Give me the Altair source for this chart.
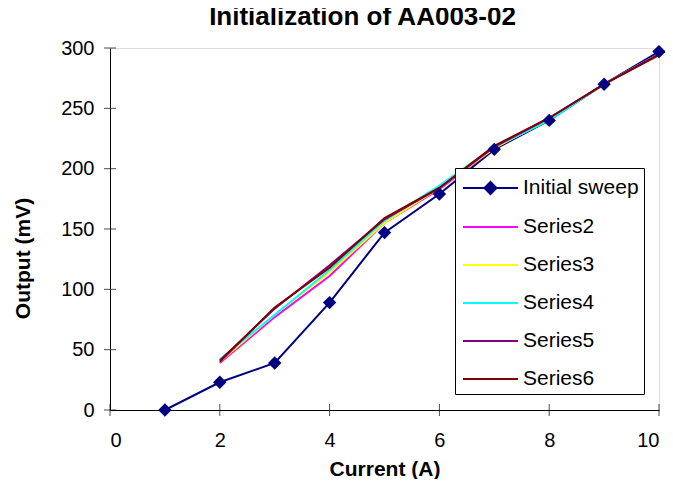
import altair as alt
import pandas as pd

# ---- data ----
series_names = ["Initial sweep", "Series2", "Series3", "Series4", "Series5", "Series6"]
series_colors = ["#000080", "#FF00FF", "#FFFF00", "#00FFFF", "#800080", "#800000"]

x_initial = [1, 2, 3, 4, 5, 6, 7, 8, 9, 10]
initial_sweep = [0, 23, 39, 89, 147, 179, 216, 240, 270, 297]

x_rep = [2, 3, 4, 5, 6, 7, 8, 9, 10]
series2 = [39, 77, 111, 155, 183, 217, 241, 270, 295]
series3 = [40, 79, 114, 155, 184, 217, 241, 270, 295]
series4 = [42, 79, 116, 157, 186, 218, 240, 270, 295]
series5 = [41, 84, 120, 158, 184, 218, 242, 270, 295]
series6 = [40, 85, 118, 159, 184, 219, 242, 270, 294]

x_ticks = [0, 2, 4, 6, 8, 10]
y_ticks = [0, 50, 100, 150, 200, 250, 300]

# ---- build tables ----
rows = []
for xv, yv in zip(x_initial, initial_sweep):
    rows.append({"current": xv, "output": yv, "series": series_names[0]})
for name, vals in zip(series_names[1:], [series2, series3, series4, series5, series6]):
    for xv, yv in zip(x_rep, vals):
        rows.append({"current": xv, "output": yv, "series": name})
df = pd.DataFrame(rows)

xtick_df = pd.DataFrame({"current": x_ticks, "output": [0] * len(x_ticks)})
ytick_df = pd.DataFrame({"current": [0] * len(y_ticks), "output": y_ticks})

FONT = "Liberation Sans"

x_scale = alt.Scale(domain=[0, 10], nice=False, zero=False)
y_scale = alt.Scale(domain=[0, 300], nice=False, zero=False)

x_enc = alt.X(
    "current:Q",
    scale=x_scale,
    axis=alt.Axis(
        title="Current (A)",
        values=x_ticks,
        ticks=False,
        grid=False,
        labelPadding=20,
        labelFontSize=20,
        labelFont=FONT,
        labelColor="black",
        domainColor="black",
        titleFont=FONT,
        titleFontSize=21,
        titleFontWeight="bold",
        titleColor="black",
        titleBaseline="alphabetic",
        titleY=65,
    ),
)
y_enc = alt.Y(
    "output:Q",
    scale=y_scale,
    axis=alt.Axis(
        title="Output (mV)",
        values=y_ticks,
        ticks=False,
        grid=False,
        labelPadding=16,
        labelFontSize=20,
        labelFont=FONT,
        labelColor="black",
        domainColor="black",
        titleFont=FONT,
        titleFontSize=21,
        titleFontWeight="bold",
        titleColor="black",
        titleAngle=270,
        titleAlign="center",
        titleBaseline="alphabetic",
        titleX=-81,
        titleY=210,
    ),
)

color_scale = alt.Scale(domain=series_names, range=series_colors)

# legend glyphs: a horizontal line (plus a diamond for the initial sweep)
line_path = "M-2,0H2"
sweep_path = "M-2,0H2M0,-0.44L0.44,0L0,0.44L-0.44,0Z"
shape_scale = alt.Scale(domain=series_names, range=[sweep_path] + [line_path] * 5)

legend = alt.Legend(
    title=None,
    orient="none",
    legendX=345,
    legendY=120,
    fillColor="white",
    strokeColor="black",
    padding=5,
    cornerRadius=0,
    labelFont=FONT,
    labelFontSize=21,
    labelColor="black",
    labelOffset=17.5,
    symbolOffset=15.5,
    symbolSize=756,
    symbolStrokeWidth=2,
    symbolOpacity=1,
    rowPadding=13,
)

stroke_enc = alt.Stroke("series:N", scale=color_scale, legend=legend)
fill_enc = alt.Fill("series:N", scale=color_scale, legend=legend)

lines = alt.Chart(df).mark_line(strokeWidth=2).encode(
    x=x_enc,
    y=y_enc,
    stroke=stroke_enc,
)

diamonds = (
    alt.Chart(df)
    .transform_filter(alt.datum.series == series_names[0])
    .mark_point(shape="diamond", filled=True, size=180, opacity=1, strokeWidth=0)
    .encode(
        x="current:Q",
        y="output:Q",
        fill=fill_enc,
    )
)

# layer that only carries the legend symbols: its marks fall outside the clipped plot
legend_layer = (
    alt.Chart(df)
    .transform_calculate(hidden="-1000")
    .mark_point(filled=True, opacity=1, strokeWidth=2, size=756, clip=True)
    .encode(
        x="current:Q",
        y=alt.Y("hidden:Q", scale=y_scale),
        fill=fill_enc,
        stroke=stroke_enc,
        shape=alt.Shape("series:N", scale=shape_scale, legend=legend),
    )
)

yticks = alt.Chart(ytick_df).mark_tick(orient="horizontal", size=12, thickness=1, color="black").encode(
    x="current:Q", y="output:Q"
)
xticks = alt.Chart(xtick_df).mark_tick(orient="vertical", size=12, thickness=1, color="black").encode(
    x="current:Q", y="output:Q"
)

chart = (
    alt.layer(lines, diamonds, legend_layer, yticks, xticks)
    .properties(
        width=549,
        height=362,
        autosize=alt.AutoSizeParams(type="none"),
        padding={"left": 102, "top": 40, "right": 6, "bottom": 69},
        title=alt.TitleParams(
            text="Initialization of AA003-02",
            font=FONT,
            fontSize=26,
            fontWeight="bold",
            color="black",
            anchor="middle",
            frame="group",
            dx=-22,
            offset=8,
        ),
    )
    .configure_view(stroke="#808080", strokeWidth=1)
    .configure(background="white")
)

chart.save("out.html", embed_options={"renderer": "svg", "actions": False})
